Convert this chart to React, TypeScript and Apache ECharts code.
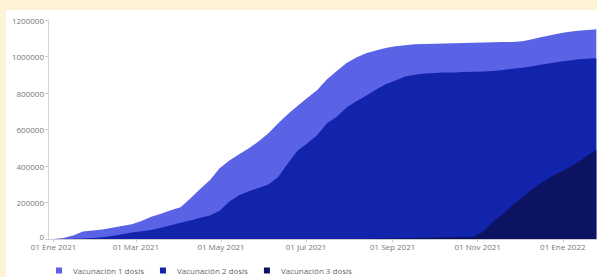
import React, { useEffect, useRef } from "react";
import * as echarts from "echarts";

const dates = [
  "2021-01-01", "2021-01-08", "2021-01-15", "2021-01-22", "2021-01-29",
  "2021-02-05", "2021-02-12", "2021-02-19", "2021-02-26",
  "2021-03-05", "2021-03-12", "2021-03-19", "2021-03-26",
  "2021-04-02", "2021-04-09", "2021-04-16", "2021-04-23", "2021-04-30",
  "2021-05-07", "2021-05-14", "2021-05-21", "2021-05-28",
  "2021-06-04", "2021-06-11", "2021-06-18", "2021-06-25",
  "2021-07-02", "2021-07-09", "2021-07-16", "2021-07-23", "2021-07-30",
  "2021-08-06", "2021-08-13", "2021-08-20", "2021-08-27",
  "2021-09-03", "2021-09-10", "2021-09-17", "2021-09-24",
  "2021-10-01", "2021-10-08", "2021-10-15", "2021-10-22", "2021-10-29",
  "2021-11-05", "2021-11-12", "2021-11-19", "2021-11-26",
  "2021-12-03", "2021-12-10", "2021-12-17", "2021-12-24", "2021-12-31",
  "2022-01-07", "2022-01-14", "2022-01-21", "2022-01-25",
];

const dosis1 = [
  0, 6000, 19000, 41000, 46000,
  52000, 61000, 71000, 81000,
  98000, 122000, 139000, 157000,
  174000, 222000, 274000, 322000, 388000,
  430000, 465000, 497000, 535000,
  579000, 634000, 685000, 730000,
  774000, 816000, 876000, 920000, 965000,
  995000, 1018000, 1033000, 1046000,
  1056000, 1062000, 1067000, 1068000,
  1070000, 1071000, 1072000, 1074000, 1076000,
  1077000, 1078000, 1079000, 1080000,
  1083000, 1094000, 1107000, 1118000, 1129000,
  1137000, 1143000, 1147000, 1149000,
];

const dosis2 = [
  0, 0, 1000, 3000, 5000,
  9000, 16000, 26000, 36000,
  43000, 49000, 62000, 75000,
  89000, 102000, 116000, 129000, 155000,
  205000, 240000, 262000, 280000,
  298000, 340000, 415000, 485000,
  525000, 570000, 634000, 670000, 720000,
  755000, 785000, 818000, 848000,
  868000, 890000, 900000, 907000,
  910000, 912000, 913000, 915000, 917000,
  918000, 921000, 926000, 933000,
  938000, 947000, 956000, 964000, 972000,
  980000, 986000, 989000, 990000,
];

const dosis3 = [
  0, 0, 0, 0, 0,
  0, 0, 0, 0,
  0, 0, 0, 0,
  0, 0, 0, 0, 0,
  0, 0, 0, 0,
  0, 0, 0, 0,
  0, 0, 0, 0, 0,
  0, 1000, 2000, 3000,
  4000, 5000, 6000, 7000,
  8000, 9000, 10000, 11000, 12000,
  40000, 95000, 135000, 185000,
  230000, 272000, 310000, 343000, 370000,
  398000, 430000, 470000, 488000,
];

const seriesNames = ["Vacunación 1 dosis", "Vacunación 2 dosis", "Vacunación 3 dosis"];
const seriesColors = ["#5A63E6", "#1224AC", "#0B1362"];
const xTickDates = ["2021-01-01", "2021-03-01", "2021-05-01", "2021-07-01", "2021-09-01", "2021-11-01", "2022-01-01"];
const monthNames = ["Ene", "Feb", "Mar", "Abr", "May", "Jun", "Jul", "Ago", "Sep", "Oct", "Nov", "Dic"];

function toTs(s: string): number {
  const [y, m, d] = s.split("-").map(Number);
  return new Date(y, m - 1, d).getTime();
}

export default function App() {
  const ref = useRef<HTMLDivElement>(null);

  useEffect(() => {
    if (!ref.current) return;
    const chart = echarts.init(ref.current, undefined, { renderer: "svg" });
    const all = [dosis1, dosis2, dosis3];
    const font = "'Open Sans', 'Segoe UI', sans-serif";
    const tickTs = xTickDates.map(toTs);
    chart.setOption({
      animation: false,
      backgroundColor: "#ffffff",
      legend: {
        left: 50,
        top: 256,
        padding: 0,
        itemWidth: 6,
        itemHeight: 6,
        itemGap: 16,
        icon: "rect",
        textStyle: { fontSize: 8, lineHeight: 9, color: "#666", fontFamily: font, padding: [0, 0, 0, 6] },
        data: seriesNames,
      },
      grid: { left: 42, right: 0, top: 10, bottom: 38, containLabel: false },
      xAxis: {
        type: "value",
        min: toTs("2020-12-28"),
        max: toTs("2022-01-25") + 12 * 3600 * 1000,
        axisLine: { show: true, lineStyle: { color: "#cccccc", width: 1 } },
        axisTick: { show: true, length: 3, lineStyle: { color: "#cccccc" }, customValues: tickTs },
        splitLine: { show: false },
        axisLabel: {
          customValues: tickTs,
          hideOverlap: false,
          fontSize: 8,
          lineHeight: 8,
          color: "#777",
          fontFamily: font,
          margin: 3,
          formatter: (v: number) => {
            const d = new Date(v);
            const day = String(d.getDate()).padStart(2, "0");
            return day + " " + monthNames[d.getMonth()] + " " + d.getFullYear();
          },
        },
      },
      yAxis: {
        type: "value",
        min: 0,
        max: 1200000,
        interval: 200000,
        axisLine: { show: true, lineStyle: { color: "#d4d4d4", width: 1 } },
        axisTick: { show: true, length: 3, lineStyle: { color: "#cccccc" } },
        splitLine: { show: false },
        axisLabel: {
          fontSize: 8,
          lineHeight: 8,
          color: "#777",
          fontFamily: font,
          margin: 4,
          formatter: (v: number) => (v === 0 ? "{z|0}" : String(v)),
          rich: {
            z: { fontSize: 8, lineHeight: 8, color: "#777", fontFamily: font, padding: [0, 0, 6, 0] },
          },
        },
      },
      series: all.map((vals, i) => ({
        name: seriesNames[i],
        type: "line",
        showSymbol: false,
        symbol: "none",
        lineStyle: { width: 0 },
        itemStyle: { color: seriesColors[i] },
        areaStyle: { color: seriesColors[i], opacity: 1 },
        data: dates.map((d, j) => [toTs(d), vals[j]]),
        z: 2 + i,
      })),
    });
    return () => chart.dispose();
  }, []);

  return (
    <div style={{ position: "fixed", left: 0, top: 0, width: 597, height: 277, background: "#FFF3D6", overflow: "hidden" }}>
      <div ref={ref} style={{ position: "absolute", left: 6, top: 10, width: 591, height: 267 }} />
    </div>
  );
}
